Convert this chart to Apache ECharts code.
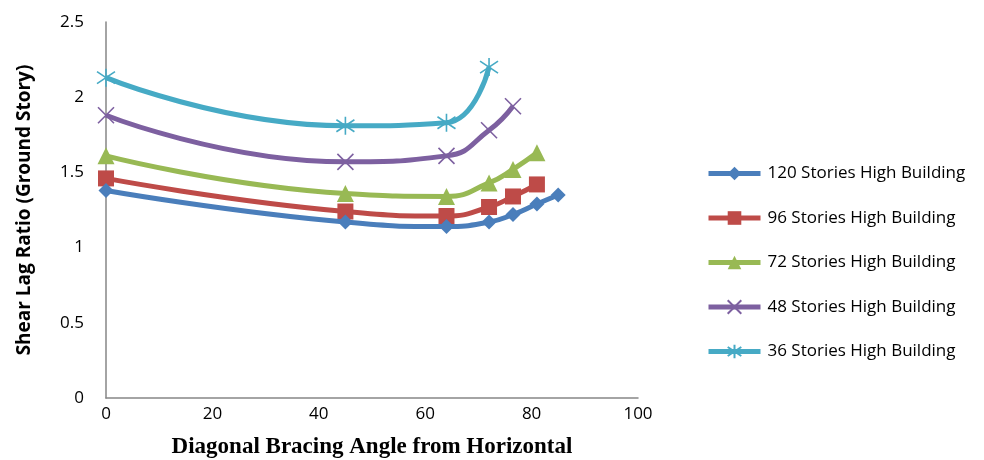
<!DOCTYPE html>
<html>
<head>
<meta charset="utf-8">
<script src="https://cdn.jsdelivr.net/npm/echarts@6/dist/echarts.min.js"></script>
<style>
  html, body { margin: 0; padding: 0; background: #fff; }
  #chart { width: 984px; height: 460px; }
</style>
</head>
<body>
<div id="chart"></div>
<script>
// bracing angles (deg)
const angles = [0, 45, 64, 72, 76.5, 81, 85];

const names = [
  '120 Stories High Building',
  '96 Stories High Building',
  '72 Stories High Building',
  '48 Stories High Building',
  '36 Stories High Building'
];

// shear lag ratio per series (a series stops where the picture stops)
const s120 = [1.38, 1.17, 1.14, 1.17, 1.22, 1.29, 1.35];
const s96 = [1.46, 1.24, 1.21, 1.27, 1.34, 1.42];
const s72 = [1.61, 1.36, 1.34, 1.43, 1.52, 1.63];
const s48 = [1.88, 1.57, 1.61, 1.78, 1.94];
const s36 = [2.13, 1.81, 1.83, 2.20];

const colors = ['#4A7EBB', '#BE4B48', '#98B954', '#7D60A0', '#46AAC5'];
const symbols = [
  'diamond',
  'rect',
  'triangle',
  'path://M0,0L10,10M10,0L0,10',
  'path://M0,1L10,9M10,1L0,9M5,-1L5,11'
];
const sizes = [15, 16, 17, 16, 18];

const valueLists = [s120, s96, s72, s48, s36];

const series = valueLists.map((vals, i) => {
  const stroke = i >= 3;
  return {
    name: names[i],
    type: 'line',
    data: vals.map((v, j) => [angles[j], v]),
    smooth: 0.5,
    symbol: symbols[i],
    symbolSize: sizes[i],
    showSymbol: true,
    lineStyle: { color: colors[i], width: 5 },
    itemStyle: stroke
      ? { color: colors[i], borderColor: colors[i], borderWidth: 1.6 }
      : { color: colors[i], borderWidth: 0 },
    emphasis: { disabled: true },
    z: 10 - i
  };
});

const myChart = echarts.init(document.getElementById('chart'));
myChart.setOption({
  animation: false,
  backgroundColor: '#fff',
  grid: { left: 106, right: 346, top: 22, bottom: 62, outerBoundsMode: 'none', containLabel: false },
  xAxis: {
    type: 'value',
    min: 0, max: 100, interval: 20,
    name: 'Diagonal Bracing Angle from Horizontal',
    nameLocation: 'middle',
    nameGap: 38,
    nameTextStyle: { fontFamily: 'Liberation Serif', fontWeight: 'bold', fontSize: 23, color: '#000' },
    axisLine: { lineStyle: { color: '#868686', width: 1.5 } },
    axisTick: { show: false },
    axisLabel: { color: '#000', fontSize: 17, fontFamily: 'Open Sans', margin: 8 },
    splitLine: { show: false }
  },
  yAxis: {
    type: 'value',
    min: 0, max: 2.5, interval: 0.5,
    name: 'Shear Lag Ratio (Ground Story)',
    nameLocation: 'middle',
    nameGap: 72,
    nameTextStyle: { fontFamily: 'Open Sans', fontWeight: 'bold', fontSize: 19, color: '#000' },
    axisLine: { show: true, lineStyle: { color: '#868686', width: 1.5 } },
    axisTick: { show: false },
    axisLabel: { color: '#000', fontSize: 17, fontFamily: 'Open Sans', margin: 22 },
    splitLine: { show: false }
  },
  legend: {
    orient: 'vertical',
    left: 701,
    top: 160,
    itemWidth: 52,
    itemHeight: 17,
    itemGap: 27.5,
    data: names,
    lineStyle: { width: 5 },
    textStyle: { fontSize: 17, fontFamily: 'Open Sans', color: '#000', padding: [0, 0, 0, 2] }
  },
  series: series
});
</script>
</body>
</html>
